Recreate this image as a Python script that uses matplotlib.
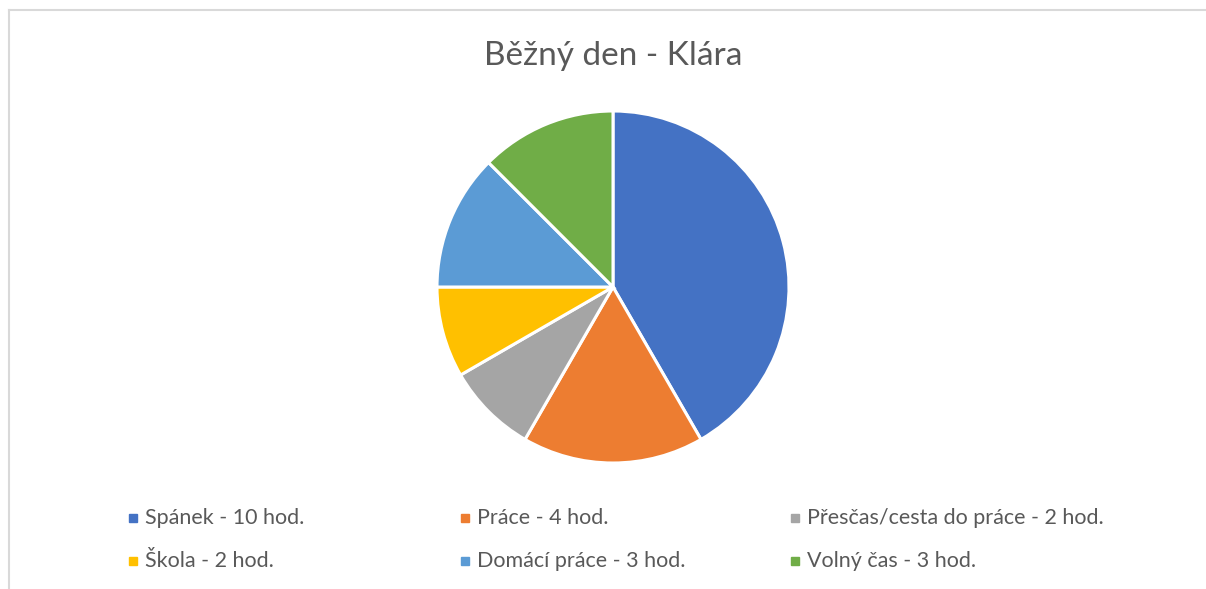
import matplotlib
matplotlib.use("Agg")
import matplotlib.pyplot as plt
from matplotlib.lines import Line2D

categories = ["Spánek - 10 hod.", "Práce - 4 hod.", "Přesčas/cesta do práce - 2 hod.",
              "Škola - 2 hod.", "Domácí práce - 3 hod.", "Volný čas - 3 hod."]
hours = [10, 4, 2, 2, 3, 3]
colors = ["#4472C4", "#ED7D31", "#A5A5A5", "#FFC000", "#5B9BD5", "#70AD47"]
title = "Běžný den - Klára"

W, H = 1206, 589
fig = plt.figure(figsize=(W / 100, H / 100), dpi=100)
plt.rcParams['font.family'] = ['Lato', 'DejaVu Sans']

def fx(px):
    return px / W

def fy(py):
    return 1 - py / H

# chart border (top and left)
fig.add_artist(Line2D([fx(9), fx(1206)], [fy(10), fy(10)], color="#d9d9d9", lw=1.5))
fig.add_artist(Line2D([fx(9), fx(9)], [fy(10), fy(589)], color="#d9d9d9", lw=1.5))

cx, cy, r = 613, 287, 176
ax = fig.add_axes([fx(cx - r), fy(cy + r), 2 * r / W, 2 * r / H])
ax.pie(hours, colors=colors, startangle=90, counterclock=False,
       wedgeprops=dict(edgecolor="white", linewidth=2.2))
ax.set_xlim(-1, 1)
ax.set_ylim(-1, 1)
ax.axis("off")

fig.text(fx(613), fy(56), title, ha="center", va="center", fontsize=24, color="#595959")

col_x = [133, 465, 795]
row_y = [518, 561]
for i, (lab, c) in enumerate(zip(categories, colors)):
    row, col = divmod(i, 3)
    x, y = col_x[col], row_y[row]
    fig.add_artist(Line2D([fx(x)], [fy(y)], marker="s", markersize=6, color=c, lw=0))
    fig.text(fx(x + 12), fy(y), lab, ha="left", va="center", fontsize=15.5, color="#595959")

fig.savefig("out.png", dpi=100, facecolor="white")
